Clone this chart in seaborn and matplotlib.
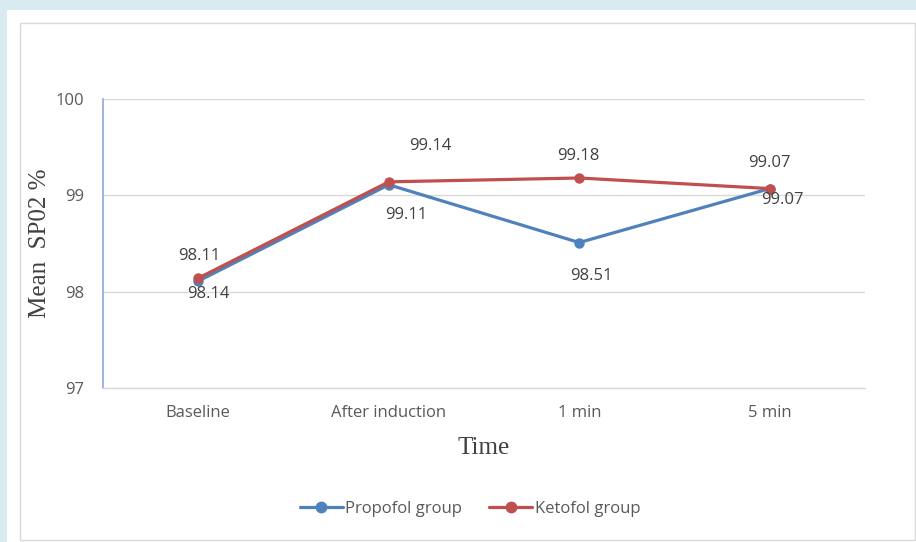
import matplotlib
matplotlib.use("Agg")
import matplotlib.pyplot as plt
import seaborn as sns
import pandas as pd
from matplotlib.patches import Rectangle

# ---- data ----
time_points = ["Baseline", "After induction", "1 min", "5 min"]
propofol = [98.11, 99.11, 98.51, 99.07]
ketofol = [98.14, 99.14, 99.18, 99.07]
propofol_labels = ["98.14", "99.11", "98.51", "99.07"]
ketofol_labels = ["98.11", "99.14", "99.18", "99.07"]
y_ticks = [97, 98, 99, 100]

sns.set_theme(style="white")
plt.rcParams['font.family'] = ['Open Sans', 'DejaVu Sans']

W, H = 916, 542
fig = plt.figure(figsize=(W / 100, H / 100), dpi=100)
fig.patch.set_facecolor("#d8ebf1")

def px_rect(x0, y0, x1, y1, **kw):
    r = Rectangle((x0 / W, 1 - y1 / H), (x1 - x0) / W, (y1 - y0) / H,
                  transform=fig.transFigure, **kw)
    fig.patches.append(r)

px_rect(7, 10, W + 5, H + 5, facecolor="white", edgecolor="none", zorder=-10)
px_rect(19.5, 22.5, 914.5, 540, facecolor="none", edgecolor="#d9d9d9", lw=1, zorder=-9)

ax = fig.add_axes([103 / W, 1 - 388 / H, (865 - 103) / W, (388 - 99) / H])
ax.set_zorder(5)
ax.set_facecolor("white")

df = pd.DataFrame({
    "Time": time_points * 2,
    "SpO2": propofol + ketofol,
    "Group": ["Propofol group"] * 4 + ["Ketofol group"] * 4,
})
df["x"] = list(range(4)) * 2
palette = {"Propofol group": "#4f81bd", "Ketofol group": "#c0504d"}

sns.lineplot(data=df, x="x", y="SpO2", hue="Group", palette=palette,
             marker="o", markersize=7.5, markeredgewidth=0, linewidth=2.3,
             ax=ax, legend=True, sort=False)

FS = 12
ax.set_xlim(-0.5, 3.5)
ax.set_ylim(97, 100)
ax.set_yticks(y_ticks)
ax.set_yticklabels([str(t) for t in y_ticks])
ax.set_xticks(range(4))
ax.set_xticklabels(time_points)
ax.grid(axis="y", color="#d9d9d9", lw=1)
ax.grid(axis="x", visible=False)
for s in ["top", "right"]:
    ax.spines[s].set_visible(False)
ax.spines["bottom"].set_color("#d9d9d9")
ax.spines["bottom"].set_linewidth(1)
ax.spines["left"].set_color("#8eaad8")
ax.spines["left"].set_linewidth(1.2)
ax.tick_params(axis="both", length=0, labelsize=FS, colors="#595959")
ax.tick_params(axis="x", pad=12.5)
ax.tick_params(axis="y", pad=13.5)

ax.set_xlabel("Time", family="Liberation Serif", fontsize=18, color="#404040")
ax.xaxis.set_label_coords(0.5, 1 - (448 - 99) / (388 - 99))
ax.xaxis.label.set_va("center")
ax.set_ylabel("Mean  SP02 %", family="Liberation Serif", fontsize=18, color="#404040")
ax.yaxis.set_label_coords((40 - 103) / (865 - 103), 0.5)
ax.yaxis.label.set_va("center")

# data labels (offsets in pixels -> points)
k_off = [(1, 22), (42, 36), (-1, 22), (0, 26)]
p_off = [(10, -13), (17, -30), (12, -33), (13, -11)]
for i in range(4):
    ax.annotate(ketofol_labels[i], (i, ketofol[i]), xytext=(k_off[i][0] * 0.72, k_off[i][1] * 0.72),
                textcoords="offset points", ha="center", va="center", fontsize=FS, color="#404040")
    ax.annotate(propofol_labels[i], (i, propofol[i]), xytext=(p_off[i][0] * 0.72, p_off[i][1] * 0.72),
                textcoords="offset points", ha="center", va="center", fontsize=FS, color="#404040")

handles, labels = ax.get_legend_handles_labels()
for h in handles:
    h.set_markersize(8.5)
ax.legend(handles, labels, loc="center", bbox_to_anchor=(470 / W, 1 - 509 / H),
          bbox_transform=fig.transFigure, ncol=2, frameon=False, fontsize=FS,
          handlelength=2.6, columnspacing=1.6, handletextpad=0.15, labelcolor="#595959")

fig.savefig("out.png", dpi=100, facecolor=fig.get_facecolor())
